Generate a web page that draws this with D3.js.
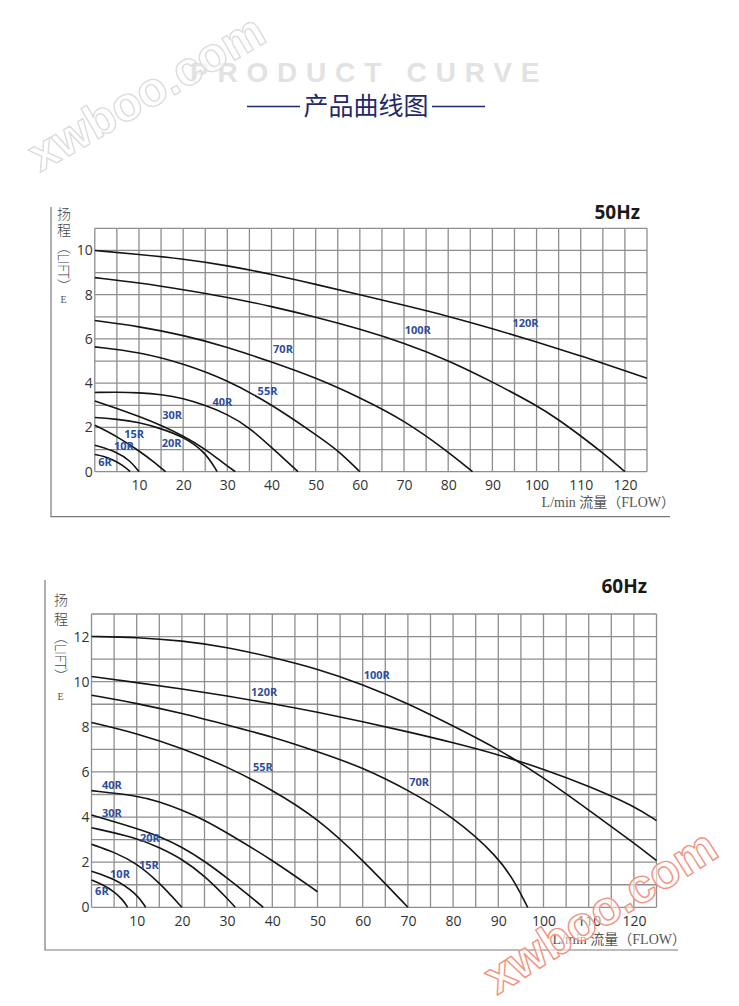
<!DOCTYPE html>
<html><head><meta charset="utf-8">
<script src="https://cdn.jsdelivr.net/npm/d3@7"></script>
<style>
html,body{margin:0;padding:0;background:#fff;}
svg{display:block;}
</style></head>
<body>
<script>
// ---------- DATA ----------
const flowTicks = [10,20,30,40,50,60,70,80,90,100,110,120];
const liftTicks50 = [0,2,4,6,8,10];
const liftTicks60 = [0,2,4,6,8,10,12];
const models = ["6R","10R","15R","20R","30R","40R","55R","70R","100R","120R"];

// 50Hz curves: [flow L/min, lift m]
const hz50_6R   = [[0,0.78],[2,0.7],[4,0.55],[6.5,0.28],[8,0]];
const hz50_10R  = [[0,1.2],[5,0.9],[8,0.5],[10,0]];
const hz50_15R  = [[0,2.1],[5,1.6],[10,0.95],[14,0.35],[16,0]];
const hz50_20R  = [[0,2.45],[5,2.38],[10,2.23],[15,1.95],[20,1.58],[25,0.9],[27.7,0]];
const hz50_30R  = [[0,3.2],[5,2.86],[10,2.5],[15,2.1],[20,1.62],[25,1.02],[28,0.56],[30,0.26],[31.8,0]];
const hz50_40R  = [[0,3.58],[5,3.6],[10,3.57],[15,3.49],[20,3.32],[25,3.0],[30,2.6],[35,2.0],[40,1.1],[46,0]];
const hz50_55R  = [[0,5.64],[10,5.41],[20,4.89],[30,4.14],[40,3.05],[50,1.68],[55,0.98],[60,0]];
const hz50_70R  = [[0,6.83],[10,6.57],[20,6.17],[30,5.64],[40,4.96],[50,4.25],[60,3.35],[70,2.33],[80,0.9],[85.5,0]];
const hz50_100R = [[0,8.77],[10,8.54],[20,8.23],[30,7.89],[40,7.47],[50,6.99],[60,6.45],[70,5.82],[80,5.04],[90,4.06],[100,3.0],[105,2.35],[110,1.62],[115,0.85],[120,0]];
const hz50_120R = [[0,10],[10,9.82],[20,9.62],[30,9.32],[40,8.92],[50,8.47],[60,8.0],[70,7.52],[80,7.03],[90,6.47],[100,5.87],[110,5.24],[120,4.57],[125,4.22]];

// 60Hz curves
const hz60_6R   = [[0,1.21],[2.5,1.0],[5,0.7],[7,0.32],[8,0]];
const hz60_10R  = [[0,1.6],[5,1.28],[10,0.6],[12,0]];
const hz60_15R  = [[0,2.79],[5,2.45],[10,1.95],[15,1.1],[20,0]];
const hz60_20R  = [[0,3.53],[10,3.08],[15,2.65],[20,2.15],[25,1.4],[30,0.4],[31.8,0]];
const hz60_30R  = [[0,4.09],[10,3.5],[15,3.15],[20,2.68],[25,2.05],[30,1.3],[35,0.5],[38,0]];
const hz60_40R  = [[0,5.17],[10,4.95],[15,4.68],[20,4.31],[25,3.87],[30,3.3],[40,2.1],[50,0.69]];
const hz60_55R  = [[0,8.19],[10,7.71],[20,7.05],[30,6.24],[40,5.2],[50,3.95],[60,2.1],[70,0]];
const hz60_70R  = [[0,9.4],[10,9.04],[20,8.6],[30,8.08],[40,7.56],[50,6.9],[60,6.2],[70,5.2],[80,4.02],[90,2.25],[94,1.0],[96.5,0]];
const hz60_100R = [[0,12.0],[10,11.97],[20,11.82],[30,11.53],[40,11.08],[50,10.57],[60,9.88],[70,9.04],[80,8.04],[90,7.02],[100,5.75],[110,4.31],[120,2.85],[125,2.07]];
const hz60_120R = [[0,10.23],[10,9.96],[20,9.68],[30,9.37],[40,9.03],[50,8.65],[60,8.23],[70,7.78],[80,7.3],[90,6.77],[100,6.13],[110,5.38],[120,4.5],[125,3.84]];

// curve-label anchors [model, flow, lift]
const labels50 = [["6R",2.3,0.45],["10R",6.6,1.16],["15R",8.9,1.7],["20R",17.4,1.28],["30R",17.5,2.55],["40R",28.9,3.15],["55R",39.1,3.64],["70R",42.6,5.53],["100R",73.1,6.39],["120R",97.5,6.7]];
const labels60 = [["6R",2.3,0.72],["10R",6.3,1.48],["15R",12.7,1.88],["20R",12.9,3.07],["30R",4.5,4.2],["40R",4.5,5.42],["55R",37.9,6.23],["70R",72.5,5.54],["100R",63.1,10.29],["120R",38.2,9.52]];

const curves50 = [hz50_6R,hz50_10R,hz50_15R,hz50_20R,hz50_30R,hz50_40R,hz50_55R,hz50_70R,hz50_100R,hz50_120R];
const curves60 = [hz60_6R,hz60_10R,hz60_15R,hz60_20R,hz60_30R,hz60_40R,hz60_55R,hz60_70R,hz60_100R,hz60_120R];

// ---------- DRAW ----------
const W = 739, H = 1006;
const svg = d3.select("body").append("svg").attr("width", W).attr("height", H);

// header
svg.append("text").attr("x", 190).attr("y", 82)
  .attr("font-family", "Liberation Sans, Arial, sans-serif").attr("font-weight", 700)
  .attr("font-size", 28).attr("letter-spacing", 8.8).attr("fill", "#e2e2e2")
  .text("PRODUCT CURVE");
svg.append("line").attr("x1", 247).attr("x2", 300).attr("y1", 106.5).attr("y2", 106.5).attr("stroke", "#1f2a6b").attr("stroke-width", 1.3);
svg.append("line").attr("x1", 432).attr("x2", 485).attr("y1", 106.5).attr("y2", 106.5).attr("stroke", "#1f2a6b").attr("stroke-width", 1.3);
svg.append("text").attr("x", 366).attr("y", 115).attr("text-anchor", "middle")
  .attr("font-family", "Noto Sans CJK SC, sans-serif").attr("font-size", 25).attr("fill", "#1f2a6b")
  .text("产品曲线图");

function drawChart(o) {
  const g = svg.append("g");
  const x = d3.scaleLinear().domain([0, 125]).range([o.left, o.right]);
  const y = d3.scaleLinear().domain([0, o.yMax]).range([o.bottom, o.top]);

  // frame (L shape)
  g.append("path")
    .attr("d", `M${o.frameX},${o.frameTop}V${o.frameBottom}H${o.frameRight}`)
    .attr("fill", "none").attr("stroke", "#7a7a7a").attr("stroke-width", 1.2);

  // grid
  const gx = d3.range(0, 126, 5), gy = d3.range(0, o.yMax + 1, 1);
  g.append("g").selectAll("line").data(gx).join("line")
    .attr("x1", d => x(d)).attr("x2", d => x(d)).attr("y1", y(0)).attr("y2", y(o.yMax))
    .attr("stroke", "#8e8e8e").attr("stroke-width", 1.3);
  g.append("g").selectAll("line").data(gy).join("line")
    .attr("x1", x(0)).attr("x2", x(125)).attr("y1", d => y(d)).attr("y2", d => y(d))
    .attr("stroke", "#8e8e8e").attr("stroke-width", 1.3);

  // axes
  const ax = g.append("g").attr("transform", `translate(0,${y(0)})`)
    .call(d3.axisBottom(x).tickValues(flowTicks).tickSize(0).tickPadding(8.5));
  const ay = g.append("g").attr("transform", `translate(${x(0)},0)`)
    .call(d3.axisLeft(y).tickValues(o.yTicks).tickSize(0).tickPadding(2));
  [ax, ay].forEach(a => {
    a.select(".domain").remove();
    a.selectAll("text").attr("font-family", "Open Sans, sans-serif").attr("font-size", 14).attr("fill", "#333");
  });

  // curves
  const line = d3.line().x(d => x(d[0])).y(d => y(d[1])).curve(d3.curveBasis);
  g.append("g").selectAll("path").data(o.curves).join("path")
    .attr("d", line).attr("fill", "none").attr("stroke", "#151515").attr("stroke-width", 1.6);

  // curve labels
  g.append("g").selectAll("text").data(o.labels).join("text")
    .attr("x", d => x(d[1])).attr("y", d => y(d[2])).attr("dy", "0.36em")
    .attr("text-anchor", "middle")
    .attr("font-family", "Open Sans, sans-serif").attr("font-weight", 700).attr("font-size", 11)
    .attr("fill", "#2e4d9c").text(d => d[0]);

  // title
  g.append("text").attr("x", o.titleX).attr("y", o.titleY).attr("text-anchor", "end")
    .attr("font-family", "Open Sans, sans-serif").attr("font-weight", 700).attr("font-size", 19)
    .attr("fill", "#1a1a1a").text(o.title);

  // y-axis name (vertical writing)
  const cjk = "Noto Sans CJK SC, sans-serif";
  const vt = g.append("text").attr("x", o.nameX).attr("y", o.nameY)
    .style("writing-mode", "vertical-rl").style("text-orientation", "mixed")
    .attr("font-family", "Open Sans, " + cjk).attr("font-weight", 300)
    .attr("font-size", 14).attr("fill", "#444");
  vt.append("tspan").attr("letter-spacing", o.nameGap).text("扬程");
  vt.append("tspan").attr("letter-spacing", 0).text("（LIFT）");
  g.append("text").attr("x", o.nameX).attr("y", o.nameY + o.eOff).attr("text-anchor", "middle")
    .attr("font-family", "Liberation Serif, serif").attr("font-size", 10).attr("fill", "#555").text("E");

  // x-axis name
  g.append("text").attr("x", o.xnameX).attr("y", o.xnameY).attr("text-anchor", "end")
    .attr("font-family", "Liberation Serif, Noto Sans CJK SC, serif").attr("font-size", 14).attr("fill", "#555")
    .text("L/min 流量（FLOW）");
}

drawChart({
  left: 94.8, right: 647, bottom: 471.7, top: 228.3, yMax: 11, yTicks: liftTicks50,
  frameX: 51, frameTop: 207, frameBottom: 516.7, frameRight: 670,
  curves: curves50, labels: labels50, title: "50Hz", titleX: 640, titleY: 219,
  nameX: 63.5, nameY: 206.5, nameGap: 2.5, eOff: 96, xnameX: 675, xnameY: 507
});
drawChart({
  left: 91.5, right: 656.5, bottom: 907.3, top: 614, yMax: 13, yTicks: liftTicks60,
  frameX: 45, frameTop: 580, frameBottom: 950, frameRight: 678,
  curves: curves60, labels: labels60, title: "60Hz", titleX: 647, titleY: 593,
  nameX: 60.5, nameY: 593, nameGap: 4.5, eOff: 107, xnameX: 686, xnameY: 944
});

// watermarks
function watermark(cx, cy, ang, stroke) {
  svg.append("text").attr("transform", `translate(${cx},${cy}) rotate(${ang})`)
    .attr("text-anchor", "middle").attr("dy", "0.35em")
    .attr("font-family", "Liberation Sans, Arial, sans-serif").attr("font-weight", 700)
    .attr("font-size", 48).attr("fill", "#fff").attr("fill-opacity", 0.55)
    .attr("stroke", stroke).attr("stroke-width", 1.4).attr("stroke-linejoin", "round")
    .text("xwboo.com");
}
watermark(146, 92, -30, "#dcdcdc");
watermark(600, 911, -32, "#f2937f");
</script>
</body></html>
